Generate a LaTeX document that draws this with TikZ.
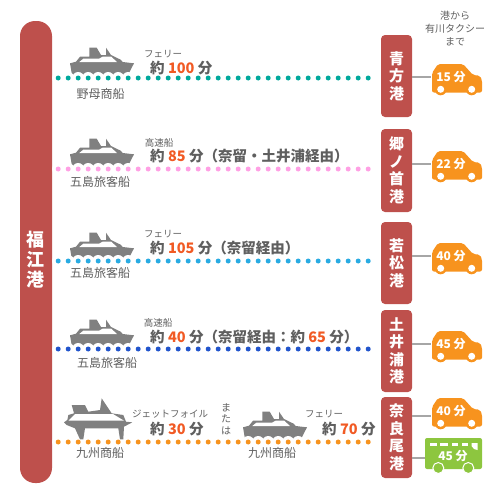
\documentclass[tikz,border=0pt]{standalone}
\usepackage{fontspec}
\setmainfont{Noto Sans CJK JP}
\usepackage{xcolor}
\usetikzlibrary{positioning, calc}
\definecolor{portred}{HTML}{BE504C}
\definecolor{shipgray}{HTML}{808080}
\definecolor{labelgray}{HTML}{5F5F5F}
\definecolor{minorange}{HTML}{F15A24}
\definecolor{carorange}{HTML}{F7931E}
\definecolor{busgreen}{HTML}{8DC63F}
\definecolor{routeteal}{HTML}{00A99D}
\definecolor{routepink}{HTML}{FFA0E4}
\definecolor{routesky}{HTML}{29ABE2}
\definecolor{routeblue}{HTML}{2255CC}
\newcommand{\mins}[1]{\textcolor{minorange}{#1}}
\tikzset{
    portbox/.style={fill=portred, rounded corners=4pt, minimum width=31pt, text=white, font=\fontsize{15}{17.5}\selectfont\bfseries, align=center, inner sep=0pt},
    dotline/.style={line width=5pt, line cap=round, dash pattern=on 0pt off 10pt, shorten <=6pt, shorten >=3pt},
    halo/.style={draw=white, line width=12pt, line cap=round, dash pattern=on 0pt off 10pt, shorten <=6pt, shorten >=3pt},
    linkline/.style={draw=gray!70, line width=1.5pt},
    traveltext/.style={anchor=west, text=labelgray, font=\fontsize{14.5}{17}\selectfont\bfseries, inner sep=0pt},
    boatname/.style={text=labelgray, font=\fontsize{12}{14}\selectfont, inner sep=0pt},
    boattype/.style={text=labelgray, font=\fontsize{9.5}{11}\selectfont, inner sep=0pt},
    vehicletext/.style={text=white, font=\fontsize{12}{14}\selectfont\bfseries, inner sep=0pt},
    ferry/.pic={
        \fill[shipgray] (0,16.3) -- (6,14.7) -- (10,9.7) -- (19.3,9.7) -- (19.3,0.7) -- (26.7,0.7) -- (31,8) -- (36,8) -- (36,0.7) -- (41,8) -- (50.7,12.7) -- (52.7,15) -- (64,16.3) -- (58,28) -- (2,28) -- cycle;
        \fill[white] (9.3,15) -- (13.3,11.7) -- (29,11.7) -- (33,9.5) -- (41,9.5) -- (47,15) -- cycle;
    },
    jetfoil/.pic={
        \fill[shipgray] (51.7,8.3) -- (61.7,23.3) -- (73.3,25) -- (76,31.7) -- (82.3,32.3) -- (74,36.7) -- (73.3,49.3) -- (70,49.3) -- (68.3,38.3) -- (35,38.3) -- (33.3,49.3) -- (30,49.3) -- (25,38.3) -- (16.7,35) -- (14,32.3) -- (17.3,30) -- (18.3,25) -- (24,23.3) -- (21.7,15) -- (35,15) -- (38.3,21.7) -- (50,20) -- cycle;
        \fill[white] (25,24) -- (63,24) -- (74,30.7) -- (18.5,30.7) -- cycle;
    },
    carshape/.pic={
        \fill[carorange, rounded corners=2pt] (1,29.5) -- (1,10) -- (7,1) -- (32,1) -- (42,12) -- (49,12.7) -- (51,17) -- (51,29.5) -- cycle;
        \fill[carorange] (9.7,26.3) circle (6pt) (40.7,26.3) circle (6pt);
        \fill[white] (9.7,26.3) circle (3.5pt) (40.7,26.3) circle (3.5pt);
    },
    busshape/.pic={
        \fill[busgreen, rounded corners=2pt] (0,0) rectangle (57,31);
        \foreach \wx/\wl in {5/6.5, 15/8, 26.5/6.5, 36.5/6.5}
            \fill[white] (\wx,5) rectangle ++(\wl,3);
        \fill[white] (46.5,5) -- (52.5,5) -- (52.5,12) -- (49,11) -- (46.5,8) -- cycle;
        \fill[busgreen, draw=white, line width=1pt] (13.3,30) circle (5.5pt) (43.3,30) circle (5.5pt);
    },
}
\begin{document}
\begin{tikzpicture}[x=1pt, y=-1pt]
    \useasboundingbox (0,0) rectangle (495,490);

    % ==========================================
    % LEFT BAR AND PORTS
    % ==========================================
    \node[portbox, rounded corners=15pt, minimum width=32pt, minimum height=462pt] (fukue) at (36,252) {};
    \node[text=white, align=center, font=\fontsize{18}{20}\selectfont\bfseries, inner sep=0pt] (fukuename) at (36,260) {福\\江\\港};
    \node[portbox, minimum height=82pt] (aokata) at (396.5,76) {青\\方\\港};
    \node[portbox, minimum height=83pt] (gonoura) at (396.5,170.5) {郷\\ノ\\首\\港};
    \node[portbox, minimum height=82pt] (wakamatsu) at (396.5,263) {若\\松\\港};
    \node[portbox, minimum height=82pt] (doura) at (396.5,351) {土\\井\\浦\\港};
    \node[portbox, minimum height=81pt] (narao) at (396.5,437.5) {奈\\良\\尾\\港};

    % ==========================================
    % SHIPS
    % ==========================================
    \pic at (70,47) {ferry};
    \pic at (70,138) {ferry};
    \pic at (70,232) {ferry};
    \pic at (70,319) {ferry};
    \pic at (243,411) {ferry};

    % ==========================================
    % DOTTED ROUTES
    % ==========================================
    \coordinate (row1) at (0,78);
    \coordinate (row2) at (0,169);
    \coordinate (row3) at (0,261);
    \coordinate (row4) at (0,349);
    \coordinate (row5) at (0,442);
    \foreach \rowname/\portname/\rowcolor in {row1/aokata/routeteal, row2/gonoura/routepink, row3/wakamatsu/routesky, row4/doura/routeblue, row5/narao/carorange} {
        \draw[halo] (fukue.east |- \rowname) -- (\portname.west |- \rowname);
        \draw[dotline, color=\rowcolor] (fukue.east |- \rowname) -- (\portname.west |- \rowname);
    }

    \pic at (50,390) {jetfoil};

    % Ship names
    \node[boatname] (name1) at (100.5,94) {野母商船};
    \node[boatname] (name2) at (100,182) {五島旅客船};
    \node[boatname] (name3) at (100,273) {五島旅客船};
    \node[boatname] (name4) at (107,363) {五島旅客船};
    \node[boatname] (name5) at (100,453) {九州商船};
    \node[boatname] (name6) at (272,453) {九州商船};

    % Ship types
    \node[boattype] (type1) at (163,54) {フェリー};
    \node[boattype] (type2) at (159,143) {高速船};
    \node[boattype] (type3) at (163,234) {フェリー};
    \node[boattype] (type4) at (158,323) {高速船};
    \node[boattype] (type5) at (170,414) {ジェットフォイル};
    \node[boattype] (type6) at (324,414) {フェリー};
    \node[boattype, align=center, font=\fontsize{10}{11.5}\selectfont] (orelse) at (226,419) {ま\\た\\は};

    % Travel times
    \node[traveltext] (time1) at (150,68) {約 \mins{100} 分};
    \node[traveltext] (time2) at (150,156) {約 \mins{85} 分（奈留・土井浦経由）};
    \node[traveltext] (time3) at (150,248) {約 \mins{105} 分（奈留経由）};
    \node[traveltext] (time4) at (150,337) {約 \mins{40} 分（奈留経由：約 \mins{65} 分）};
    \node[traveltext] (time5) at (150,429) {約 \mins{30} 分};
    \node[traveltext] (time6) at (322,429) {約 \mins{70} 分};

    % ==========================================
    % TAXI AND BUS
    % ==========================================
    \node[boattype, align=center, font=\fontsize{10}{13}\selectfont] (taxihead) at (455,29) {港から\\有川タクシー\\まで};

    \coordinate (car1) at (431,63);
    \coordinate (car2) at (431,150);
    \coordinate (car3) at (431,242);
    \coordinate (car4) at (431,330);
    \coordinate (car5) at (431,397);
    \coordinate (bus5) at (425,438);

    \draw[linkline] (aokata.east |- 0,77) -- (car1 |- 0,77);
    \draw[linkline] (gonoura.east |- 0,164) -- (car2 |- 0,164);
    \draw[linkline] (wakamatsu.east |- 0,256) -- (car3 |- 0,256);
    \draw[linkline] (doura.east |- 0,344) -- (car4 |- 0,344);
    \draw[linkline] (narao.east |- 0,416) -- (car5 |- 0,416);
    \draw[linkline] (narao.east |- 0,458) -- (bus5 |- 0,458);

    \pic at (car1) {carshape};
    \pic at (car2) {carshape};
    \pic at (car3) {carshape};
    \pic at (car4) {carshape};
    \pic at (car5) {carshape};
    \pic at (bus5) {busshape};

    \node[vehicletext] (cartime1) at (451,77) {15 分};
    \node[vehicletext] (cartime2) at (451,164) {22 分};
    \node[vehicletext] (cartime3) at (451,256) {40 分};
    \node[vehicletext] (cartime4) at (451,344) {45 分};
    \node[vehicletext] (cartime5) at (451,411) {40 分};
    \node[vehicletext] (bustime) at (453,456) {45 分};
\end{tikzpicture}
\end{document}
